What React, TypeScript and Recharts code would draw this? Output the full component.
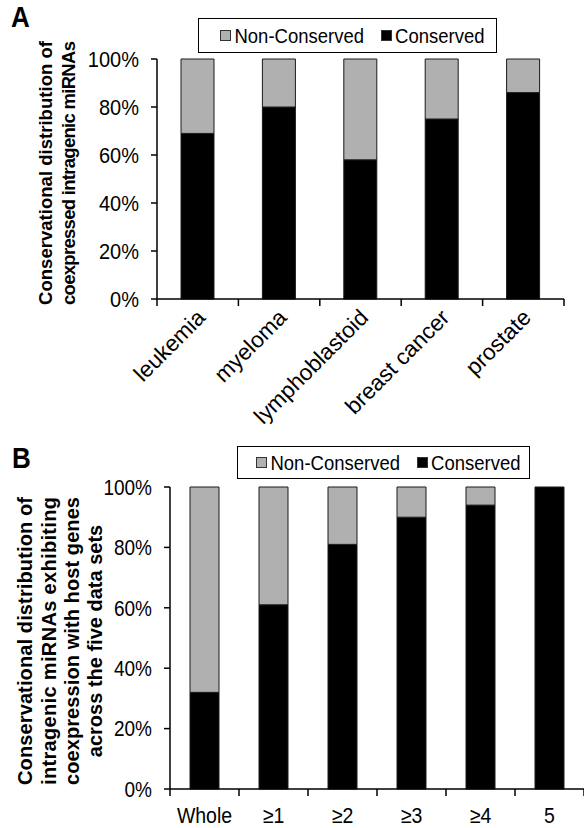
import React from "react";
import { Bar, BarChart, Legend, XAxis, YAxis } from "recharts";

const tissues = ["leukemia", "myeloma", "lymphoblastoid", "breast cancer", "prostate"];
const tissueConserved = [69, 80, 58, 75, 86];
const tissueNonConserved = [31, 20, 42, 25, 14];

const groups = ["Whole", "≥1", "≥2", "≥3", "≥4", "5"];
const groupConserved = [32, 61, 81, 90, 94, 100];
const groupNonConserved = [68, 39, 19, 10, 6, 0];

const percentTicks = [0, 20, 40, 60, 80, 100];

const titleA = ["Conservational distribution of", "coexpressed intragenic miRNAs"];
const titleB = [
  "Conservational distribution of",
  "intragenic miRNAs exhibiting",
  "coexpression with host genes",
  "across the five data sets",
];

const FONT = "Arial, 'Liberation Sans', Helvetica, sans-serif";
const GREY = "#b0b0b0";
// the source figure is a bit stretched vertically, so horizontal text looks tall
const STRETCH = 1.13;

const dataA = tissues.map((name, i) => ({
  name,
  conserved: tissueConserved[i],
  nonConserved: tissueNonConserved[i],
}));
const dataB = groups.map((name, i) => ({
  name,
  conserved: groupConserved[i],
  nonConserved: groupNonConserved[i],
}));

// category ticks sit on the boundaries between bars, like the excel original
function BoundaryTick(props: any) {
  const { x, y, payload, index, visibleTicksCount, half, rotated, fontSize } = props;
  const last = index === visibleTicksCount - 1;
  return (
    <g>
      <line x1={x - half} y1={y} x2={x - half} y2={y + 7} stroke="#000" strokeWidth={1.5} />
      {last && <line x1={x + half} y1={y} x2={x + half} y2={y + 7} stroke="#000" strokeWidth={1.5} />}
      {rotated ? (
        <text
          transform={`translate(${x + 9},${y + 20}) rotate(-45)`}
          textAnchor="end"
          fontFamily={FONT}
          fontSize={fontSize}
          fill="#000"
        >
          {payload.value}
        </text>
      ) : (
        <text
          transform={`translate(${x},${y + 34}) scale(1,${STRETCH})`}
          textAnchor="middle"
          fontFamily={FONT}
          fontSize={fontSize}
          fill="#000"
        >
          {payload.value}
        </text>
      )}
    </g>
  );
}

function PercentTick(props: any) {
  const { x, y, payload, fontSize } = props;
  return (
    <text
      transform={`translate(${x},${y}) scale(1,${STRETCH})`}
      textAnchor="end"
      dy="0.36em"
      fontFamily={FONT}
      fontSize={fontSize}
      fill="#000"
    >
      {`${payload.value}%`}
    </text>
  );
}

function AxisTitle(props: any) {
  const { lines, xs, cy, len, fontSize, letter, letterX, letterY } = props;
  return (
    <g>
      <text
        transform={`translate(${letterX},${letterY}) scale(1,${STRETCH})`}
        fontFamily={FONT}
        fontWeight="bold"
        fontSize={26}
        fill="#000"
      >
        {letter}
      </text>
      {lines.map((t: string, i: number) => (
        <text
          key={i}
          transform={`translate(${xs[i]},${cy}) rotate(-90)`}
          textAnchor="middle"
          dominantBaseline="central"
          fontFamily={FONT}
          fontWeight="bold"
          fontSize={fontSize}
          fill="#000"
          textLength={i < lines.length - 1 || lines.length === 2 ? len : undefined}
          lengthAdjust="spacing"
        >
          {t}
        </text>
      ))}
    </g>
  );
}

function LegendBox(props: any) {
  const items = [...(props.payload || [])].reverse();
  return (
    <div
      style={{
        boxSizing: "border-box",
        width: "100%",
        height: "100%",
        border: "1.5px solid #000",
        background: "#fff",
        display: "flex",
        alignItems: "center",
        justifyContent: "center",
        paddingLeft: 10,
        gap: 17,
        fontFamily: FONT,
        fontSize: 18.5,
        color: "#000",
      }}
    >
      {items.map((it: any) => (
        <span key={it.value} style={{ display: "flex", alignItems: "center" }}>
          <span
            style={{
              display: "inline-block",
              width: 9,
              height: 9,
              background: it.color,
              border: "1px solid #333",
              marginRight: 3,
            }}
          />
          <span style={{ display: "inline-block", transform: `scaleY(${STRETCH})` }}>{it.value}</span>
        </span>
      ))}
    </div>
  );
}

export default function App() {
  const halfA = (584 - 157 - 20) / tissues.length / 2;
  const halfB = (584 - 170) / groups.length / 2;
  return (
    <div style={{ position: "absolute", left: 0, top: 0, width: 584, height: 828, background: "#fff" }}>
      <div style={{ position: "absolute", left: 0, top: 0 }}>
        <BarChart width={584} height={430} data={dataA} margin={{ top: 59, right: 20, bottom: 0, left: 0 }}>
          <XAxis
            dataKey="name"
            height={131}
            axisLine={{ stroke: "#000", strokeWidth: 1.5 }}
            tickLine={false}
            tickSize={0}
            tickMargin={0}
            interval={0}
            tick={<BoundaryTick half={halfA} rotated fontSize={22.5} />}
          />
          <YAxis
            width={157}
            domain={[0, 100]}
            ticks={percentTicks}
            axisLine={{ stroke: "#000", strokeWidth: 1.5 }}
            tickLine={{ stroke: "#000", strokeWidth: 1.5 }}
            tickSize={6}
            tickMargin={12}
            tick={<PercentTick fontSize={20} />}
            label={
              <AxisTitle
                lines={titleA}
                xs={[45, 68]}
                cy={173}
                len={264}
                fontSize={18.5}
                letter="A"
                letterX={11}
                letterY={27}
              />
            }
          />
          <Legend
            layout="horizontal"
            verticalAlign="middle"
            align="center"
            wrapperStyle={{ top: 18, left: 198, width: 299, height: 35 }}
            content={<LegendBox />}
          />
          <Bar dataKey="conserved" name="Conserved" stackId="s" fill="#000" stroke="#1a1a1a" barSize={33} isAnimationActive={false} />
          <Bar dataKey="nonConserved" name="Non-Conserved" stackId="s" fill={GREY} stroke="#1a1a1a" barSize={33} isAnimationActive={false} />
        </BarChart>
      </div>
      <div style={{ position: "absolute", left: 0, top: 430 }}>
        <BarChart width={584} height={398} data={dataB} margin={{ top: 57, right: 0, bottom: 0, left: 0 }}>
          <XAxis
            dataKey="name"
            height={39}
            axisLine={{ stroke: "#000", strokeWidth: 1.5 }}
            tickLine={false}
            tickSize={0}
            tickMargin={0}
            interval={0}
            tick={<BoundaryTick half={halfB} fontSize={19.5} />}
          />
          <YAxis
            width={170}
            domain={[0, 100]}
            ticks={percentTicks}
            axisLine={{ stroke: "#000", strokeWidth: 1.5 }}
            tickLine={{ stroke: "#000", strokeWidth: 1.5 }}
            tickSize={6}
            tickMargin={12}
            tick={<PercentTick fontSize={19} />}
            label={
              <AxisTitle
                lines={titleB}
                xs={[25, 49, 72, 95]}
                cy={211}
                len={288}
                fontSize={20}
                letter="B"
                letterX={12}
                letterY={38}
              />
            }
          />
          <Legend
            layout="horizontal"
            verticalAlign="middle"
            align="center"
            wrapperStyle={{ top: 16, left: 237, width: 293, height: 33 }}
            content={<LegendBox />}
          />
          <Bar dataKey="conserved" name="Conserved" stackId="s" fill="#000" stroke="#1a1a1a" barSize={29} isAnimationActive={false} />
          <Bar dataKey="nonConserved" name="Non-Conserved" stackId="s" fill={GREY} stroke="#1a1a1a" barSize={29} isAnimationActive={false} />
        </BarChart>
      </div>
    </div>
  );
}
